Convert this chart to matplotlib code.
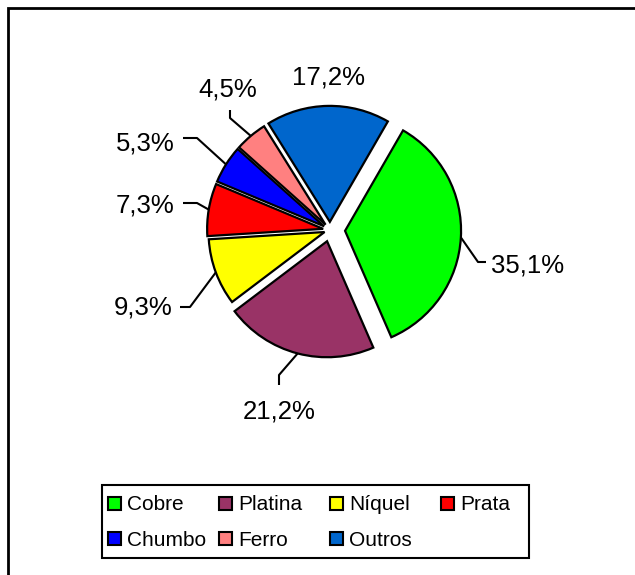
import numpy as np
import matplotlib
matplotlib.use("Agg")
import matplotlib.pyplot as plt
from matplotlib.patches import Rectangle

plt.rcParams['font.family'] = ['Liberation Sans', 'DejaVu Sans']

# data
metais = ['Cobre', 'Platina', 'Níquel', 'Prata', 'Chumbo', 'Ferro', 'Outros']
valores = [35.1, 21.2, 9.3, 7.3, 5.3, 4.5, 17.2]
rotulos = ['35,1%', '21,2%', '9,3%', '7,3%', '5,3%', '4,5%', '17,2%']
cores = ['#00FF00', '#993366', '#FFFF00', '#FF0000', '#0000FF', '#FF8080', '#0066CC']
explode = [0.13, 0.10, 0.05, 0.06, 0.06, 0.06, 0.07]

# label layout in pixels (from top-left of the figure)
pos_rot = [(528, 265), (279, 412), (143, 308), (145, 206),
           (145, 143), (228, 89), (328, 77)]
cotovelo = [(478, 262), (279, 375), (190, 307), (197, 203),
            (197, 138), (230, 118), None]
ponta = [(486, 262), (279, 385), (180, 307), (183, 203),
         (183, 138), (230, 110), None]

W, H = 635.0, 575.0
fig = plt.figure(figsize=(W / 100, H / 100), dpi=100)
# pie centre at (330, 230) px, radius 116 px
CX, CY, R = 330.0, 230.0, 116.0
half = 1.9
ax = fig.add_axes([(CX - half * R) / W, (H - CY - half * R) / H,
                   2 * half * R / W, 2 * half * R / H])


def dados(p):
    # pixel position -> pie units
    return (p[0] - CX) / R, (CY - p[1]) / R


wedges, _ = ax.pie(valores, colors=cores, explode=explode, startangle=60,
                   counterclock=False, radius=1.0,
                   wedgeprops=dict(edgecolor='black', linewidth=1.6))
ax.set_xlim(-half, half)
ax.set_ylim(-half, half)
ax.set_aspect('equal')
ax.axis('off')

for i, w in enumerate(wedges):
    theta = np.deg2rad((w.theta1 + w.theta2) / 2.0)
    r0 = 1.0 + explode[i]
    x0, y0 = r0 * np.cos(theta), r0 * np.sin(theta)
    if cotovelo[i] is not None:
        c = dados(cotovelo[i])
        p = dados(ponta[i])
        ax.plot([x0, c[0], p[0]], [y0, c[1], p[1]], color='black', lw=1.5,
                solid_capstyle='butt')
    tx, ty = dados(pos_rot[i])
    ax.text(tx, ty, rotulos[i], fontsize=18.5, ha='center', va='center')


# legend, Excel style: fixed-width columns (drawn in pixel units)
def px(x, y):
    return x / W, 1 - y / H


lx0, ly0, lx1, ly1 = 102, 485, 529, 558
fig.patches.append(Rectangle(px(lx0, ly1), (lx1 - lx0) / W, (ly1 - ly0) / H,
                             transform=fig.transFigure, fill=False,
                             edgecolor='black', linewidth=1.5, figure=fig))
for i, (nome, cor) in enumerate(zip(metais, cores)):
    col, lin = i % 4, i // 4
    xp = 108 + 111 * col
    yc = 503 + 35 * lin
    fig.patches.append(Rectangle(px(xp, yc + 6.5), 13 / W, 13 / H,
                                 transform=fig.transFigure, facecolor=cor,
                                 edgecolor='black', linewidth=1.5, figure=fig))
    fig.text(*px(xp + 19, yc), nome, fontsize=15, ha='left', va='center_baseline')

# outer frame
fig.patches.append(Rectangle((8 / W, -0.1), 1.2, 1 - 8 / H + 0.1,
                             transform=fig.transFigure, fill=False,
                             edgecolor='black', linewidth=2, figure=fig))

fig.savefig('out.png', dpi=100)
